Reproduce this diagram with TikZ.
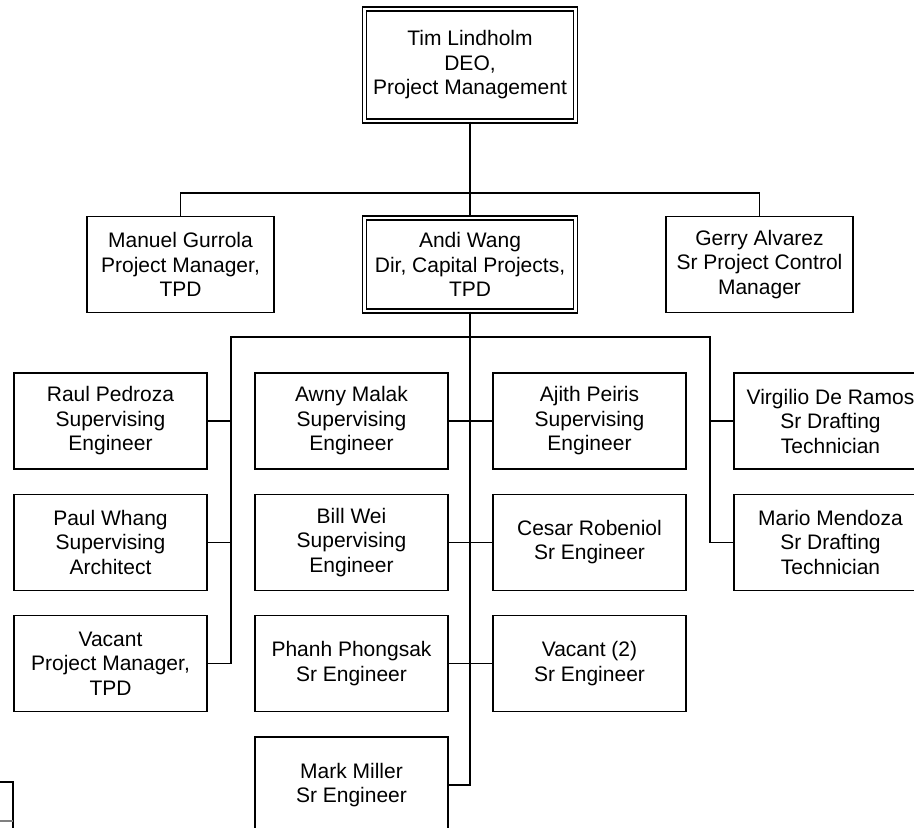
\documentclass[tikz,border=0pt]{standalone}
\usepackage{fontspec}
\setmainfont{Liberation Sans}
\usetikzlibrary{positioning}

\begin{document}
\begin{tikzpicture}[
    x=0.5pt, y=-0.5pt,
    node distance=12pt and 24pt,
    person/.style={draw, line width=0.65pt, minimum width=96.5pt, minimum height=48pt,
        inner sep=0pt, align=center, font=\fontsize{10.5}{12.25}\selectfont},
    chief/.style={person, double, double distance=1.4pt, line width=0.6pt},
    link/.style={line width=0.6pt},
    trunk/.style={line width=1.2pt}
    ]
    \useasboundingbox (0,0) rectangle (914,828);

    % Top of the chart
    \node[chief, minimum width=105.4pt, minimum height=56pt] (tim) at (470,65) {Tim Lindholm\\DEO,\\Project Management};
    \node[chief, minimum width=105.5pt, minimum height=46.5pt] (andi) at (470,264.5) {Andi Wang\\Dir, Capital Projects,\\TPD};
    \node[person, minimum width=93.5pt] (manuel) at (180.5,264.5) {Manuel Gurrola\\Project Manager,\\TPD};
    \node[person, minimum width=93.5pt] (gerry) at (759.5,264.5) {Gerry Alvarez\\Sr Project Control\\Manager};

    % Left column
    \node[person] (raul) at (110.5,421) {Raul Pedroza\\Supervising\\Engineer};
    \node[person] (paul) [below=of raul] {Paul Whang\\Supervising\\Architect};
    \node[person] (vacant) [below=of paul] {Vacant\\Project Manager,\\TPD};

    % Middle columns
    \node[person] (awny) at (351.5,421) {Awny Malak\\Supervising\\Engineer};
    \node[person] (bill) [below=of awny] {Bill Wei\\Supervising\\Engineer};
    \node[person] (phanh) [below=of bill] {Phanh Phongsak\\Sr Engineer};
    \node[person] (mark) [below=of phanh] {Mark Miller\\Sr Engineer};
    \node[person] (ajith) at (589.5,421) {Ajith Peiris\\Supervising\\Engineer};
    \node[person] (cesar) [below=of ajith] {Cesar Robeniol\\Sr Engineer};
    \node[person] (vacanttwo) [below=of cesar] {Vacant (2)\\Sr Engineer};

    % Right column
    \node[person] (virgilio) at (830.5,421) {Virgilio De Ramos\\Sr Drafting\\Technician};
    \node[person] (mario) [below=of virgilio] {Mario Mendoza\\Sr Drafting\\Technician};

    % Upper tree
    \coordinate (split) at (470,193);
    \draw[trunk] (tim.south) -- (andi.north);
    \draw[link] (manuel.north) |- (split) -| (gerry.north);

    % Lower tree
    \coordinate (leftbus) at (231,337);
    \coordinate (rightbus) at (710,337);
    \draw[link] (vacant.east) -| (leftbus) -- (rightbus) |- (mario.west);
    \draw[link] (raul.east) -- (raul.east -| leftbus);
    \draw[link] (paul.east) -- (paul.east -| leftbus);
    \draw[link] (virgilio.west) -- (virgilio.west -| rightbus);
    \draw[link] (awny.east) -- (ajith.west);
    \draw[link] (bill.east) -- (cesar.west);
    \draw[link] (phanh.east) -- (vacanttwo.west);
    \draw[trunk] (andi.south) |- (mark.east);

    % Box cut off at the lower left
    \draw[line width=0.8pt] (-10,782) -| (13,840);
    \draw[gray, line width=0.6pt] (-10,821) -- (13,821);
\end{tikzpicture}
\end{document}
